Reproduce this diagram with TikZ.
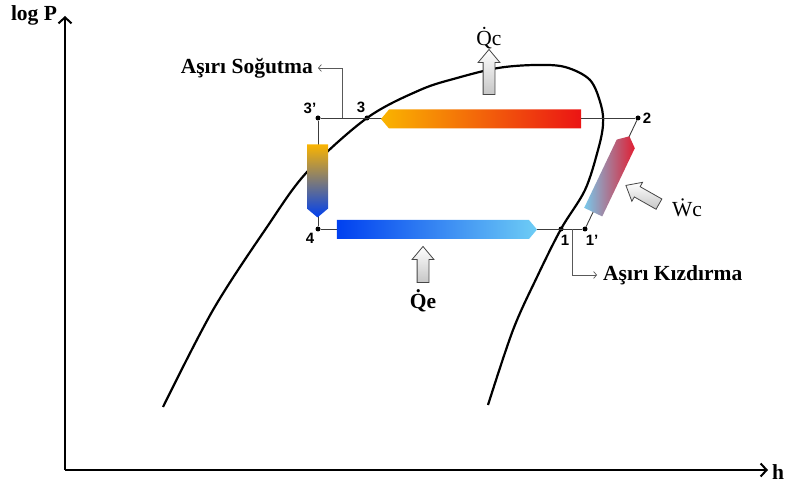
\documentclass[tikz,border=0pt]{standalone}
\usepackage{fontspec}
\setmainfont{Liberation Serif}
\setsansfont{Liberation Sans}
\usetikzlibrary{arrows.meta,shapes.arrows,positioning}

\definecolor{condL}{RGB}{250,180,0}
\definecolor{condR}{RGB}{235,20,20}
\definecolor{evapL}{RGB}{0,64,240}
\definecolor{evapR}{RGB}{110,205,245}
\definecolor{expM}{RGB}{130,125,120}
\definecolor{compL}{RGB}{120,200,235}
\definecolor{compM}{RGB}{170,140,170}
\definecolor{compR}{RGB}{225,30,50}
\definecolor{thinline}{RGB}{60,60,60}

\begin{document}
\begin{tikzpicture}[
    x=1pt, y=-1pt,
    font=\fontsize{21.5}{24}\selectfont,
    axis/.style={line width=2.2pt, -{Straight Barb[length=6pt,width=13pt,line width=2pt]}},
    dome/.style={line width=2.2pt},
    cycle/.style={thinline, line width=0.9pt},
    pt/.style={circle, fill=black, inner sep=0pt, minimum size=5pt},
    ptlabel/.style={font=\sffamily\bfseries\fontsize{15}{17}\selectfont, inner sep=1pt},
    callout/.style={gray!70!black, line width=0.8pt, -{Straight Barb[length=3pt,width=7pt,line width=0.7pt]}},
    bar/.style={single arrow, single arrow head extend=0pt, single arrow tip angle=100, inner sep=0pt, minimum width=19pt},
    heatarrow/.style={single arrow, draw=gray!55!black, line width=0.8pt, top color=white, bottom color=gray!45,
        single arrow head extend=5pt, single arrow tip angle=80, inner xsep=0pt, inner ysep=5.5pt},
    heatlabel/.style={inner sep=1pt}
]
\useasboundingbox (0,0) rectangle (785,494);

% --- Axes ---
\coordinate (origin) at (65,470);
\coordinate (ytip) at (65,16);
\coordinate (xtip) at (768,470);
\draw [axis] (origin) -- (ytip);
\draw [axis] (origin) -- (xtip);
\node (logp) at (34,15) {\textbf{log P}};
\node (haxis) at (778,472) {\textbf{h}};

% --- Saturation dome ---
\draw [dome] plot[smooth, tension=0.55] coordinates {
    (163,407) (213,310) (267,227) (307,172) (367,118) (420,90) (457,78) (498,68)
    (535,65) (565,67) (590,80) (601,105) (603,125) (598,150) (585,190) (561,229)
    (537,277) (513,330) (488,405)};

% --- Cycle points ---
\node (p3s) at (318,118) [pt] {};
\node (p3) at (367,118) [pt] {};
\node (p2) at (638,118) [pt] {};
\node (p4) at (318,229) [pt] {};
\node (p1) at (561,229) [pt] {};
\node (p1s) at (585,229) [pt] {};

\node (l3s) at (310,108) [ptlabel] {3'};
\node (l3) at (361,107) [ptlabel] {3};
\node (l2) at (647,118) [ptlabel] {2};
\node (l4) at (310,238) [ptlabel] {4};
\node (l1) at (565,240) [ptlabel] {1};
\node (l1s) at (592,240) [ptlabel] {1'};

\draw [cycle] (p3s) -- (p2);
\draw [cycle] (p3s) -- (p4);
\draw [cycle] (p4) -- (p1s);
\draw [cycle] (p1s) -- (p2);

% --- Process bars ---
\node (condbar) at (485,119) [bar, shape border rotate=180, minimum height=200pt, left color=condL, right color=condR] {};
\node (evapbar) at (433,229.5) [bar, minimum height=200pt, left color=evapL, right color=evapR] {};
\node (expbar) at (317.5,176.5) [bar, shape border rotate=270, minimum width=21pt, minimum height=73pt,
    top color=condL, middle color=expM, bottom color=evapL] {};
\node (compbar) at (609.5,178) [bar, rotate=64.5, minimum width=20pt, minimum height=84pt,
    left color=compL, middle color=compM, right color=compR] {};

% --- Heat and work arrows ---
\node (qcarrow) at (489,75.5) [heatarrow, rotate=90, minimum height=45pt] {};
\node (qearrow) at (423,268) [heatarrow, rotate=90, minimum height=36pt] {};
\node (wcarrow) at (645.5,196.5) [heatarrow, rotate=150.5, minimum height=38pt] {};
\node (qc) at (489,38) [heatlabel] {\.{Q}c};
\node (qe) at (423,301) [heatlabel] {\textbf{\.{Q}e}};
\node (wc) at (687,208) [heatlabel] {\.{W}c};

% --- Subcooling / superheating callouts ---
\coordinate (sc) at (342,118);
\coordinate (sh) at (572,229);
\node (sogutma) at (318,68) [anchor=east, inner sep=5pt] {\textbf{Aşırı Soğutma}};
\node (kizdirma) at (597,275) [anchor=west, inner sep=6pt] {\textbf{Aşırı Kızdırma}};
\draw [callout] (sc) |- (sogutma.east);
\draw [callout] (sh) |- (kizdirma.west);

\end{tikzpicture}
\end{document}
